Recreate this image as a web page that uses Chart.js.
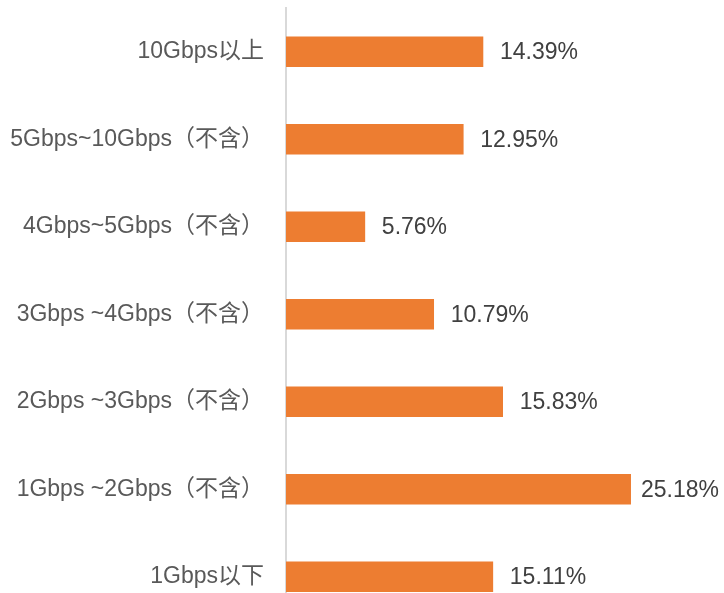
<!DOCTYPE html>
<html>
<head>
<meta charset="utf-8">
<script src="https://cdn.jsdelivr.net/npm/chart.js@4.4.1/dist/chart.umd.min.js"></script>
<style>
    html, body { margin: 0; padding: 0; background: #fff; overflow: hidden; }
    #wrap { position: absolute; left: 0; top: 0; width: 724px; height: 630px; }
</style>
</head>
<body>
<div id="wrap"><canvas id="chart"></canvas></div>
<script>
const categories = [
    "10Gbps以上",
    "5Gbps~10Gbps（不含）",
    "4Gbps~5Gbps（不含）",
    "3Gbps ~4Gbps（不含）",
    "2Gbps ~3Gbps（不含）",
    "1Gbps ~2Gbps（不含）",
    "1Gbps以下"
];
const shares = [14.39, 12.95, 5.76, 10.79, 15.83, 25.18, 15.11];

const FONT = '"Liberation Sans", Arial, "Noto Sans CJK SC", sans-serif';

// draw the value labels right of each bar
const valueLabels = {
    id: "valueLabels",
    afterDatasetsDraw(chart) {
        const ctx = chart.ctx;
        const meta = chart.getDatasetMeta(0);
        ctx.save();
        ctx.font = "23px " + FONT;
        ctx.fillStyle = "#404040";
        ctx.textBaseline = "middle";
        meta.data.forEach((bar, i) => {
            const text = shares[i].toFixed(2) + "%";
            const w = ctx.measureText(text).width;
            let x = bar.x + 17;
            if (x + w > chart.width - 5) x = chart.width - 5 - w;
            ctx.fillText(text, x, bar.y + 1);
        });
        ctx.restore();
    }
};

new Chart(document.getElementById("chart"), {
    type: "bar",
    data: {
        labels: categories,
        datasets: [{
            data: shares,
            backgroundColor: "#ED7D31",
            barThickness: 30,
        }]
    },
    options: {
        indexAxis: "y",
        responsive: true,
        maintainAspectRatio: false,
        animation: false,
        layout: { padding: { top: 8, bottom: 9.5, right: 0, left: 0 } },
        plugins: {
            legend: { display: false },
            tooltip: { enabled: false },
        },
        scales: {
            x: {
                display: false,
                min: 0,
                max: 32,
            },
            y: {
                afterFit: (scale) => {
                    scale.width = 286;
                    scale.paddingTop = 0;
                    scale.paddingBottom = 0;
                },
                grid: { display: false, drawTicks: false },
                border: { display: true, color: "#d9d9d9", width: 2 },
                ticks: {
                    padding: 22,
                    color: "#595959",
                    font: { size: 23, family: FONT },
                },
            },
        },
    },
    plugins: [valueLabels],
});
</script>
</body>
</html>
